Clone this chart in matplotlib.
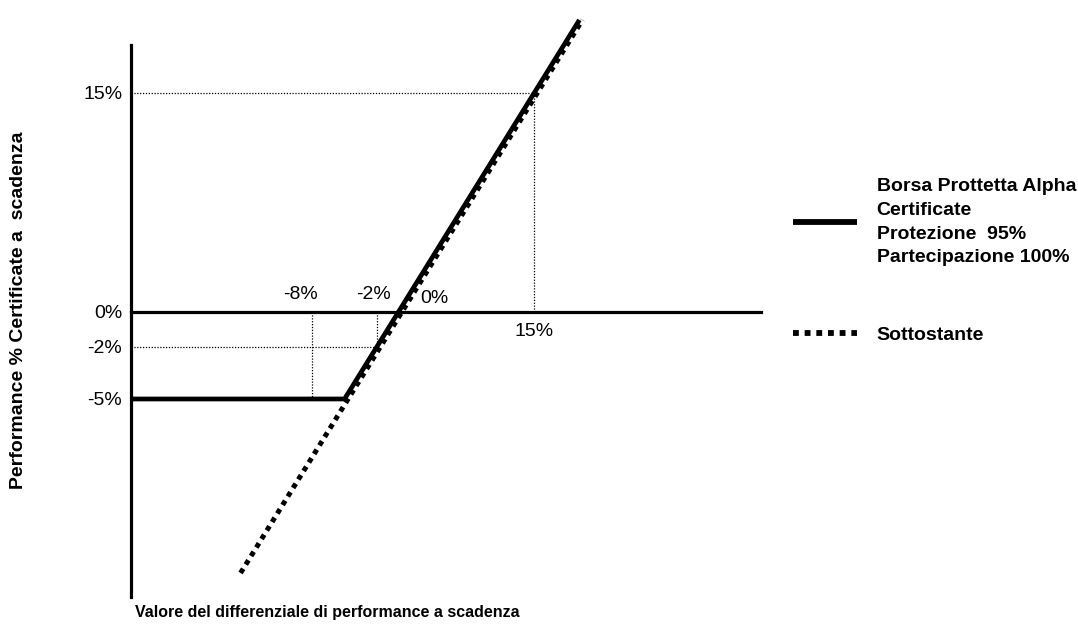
import numpy as np
import matplotlib.pyplot as plt
from matplotlib.transforms import offset_copy

plt.rcParams['font.family'] = ['Liberation Sans', 'DejaVu Sans']

# payoff at maturity (values in %)
cert_x = [-25, -5, 20]
cert_y = [-5, -5, 20]
under_x = [-15, 20]
under_y = [-15, 20]

y_ticks = [15, 0, -2, -5]
y_tick_labels = ['15%', '0%', '-2%', '-5%']
x_marks = [-8, -2, 0, 15]
x_mark_labels = ['-8%', '-2%', '0%', '15%']

cert_label = 'Borsa Prottetta Alpha\nCertificate\nProtezione  95%\nPartecipazione 100%'
under_label = 'Sottostante'
xlabel = 'Valore del differenziale di performance a scadenza'
ylabel = 'Performance % Certificate a  scadenza'

# schematic axes: different stretch either side of zero
kx_neg, kx_pos = 10.7, 9.07
ky_neg, ky_pos = 17.4, 14.6


def fx(v):
    v = np.asarray(v, dtype=float)
    return np.where(v < 0, v * kx_neg, v * kx_pos)


def fx_inv(p):
    p = np.asarray(p, dtype=float)
    return np.where(p < 0, p / kx_neg, p / kx_pos)


def fy(v):
    v = np.asarray(v, dtype=float)
    return np.where(v < 0, v * ky_neg, v * ky_pos)


def fy_inv(p):
    p = np.asarray(p, dtype=float)
    return np.where(p < 0, p / ky_neg, p / ky_pos)


fig = plt.figure(figsize=(10.78, 6.25), dpi=100)
ax = fig.add_axes([0.1211, 0.0442, 0.5847, 0.8842])
ax.set_xscale('function', functions=(fx, fx_inv))
ax.set_yscale('function', functions=(fy, fy_inv))
ax.set_xlim(-25, 40)
ax.set_ylim(-16.4, 18.3)

for s in ['top', 'right']:
    ax.spines[s].set_visible(False)
ax.spines['bottom'].set_position(('data', 0))
ax.spines['left'].set_linewidth(2.3)
ax.spines['bottom'].set_linewidth(2.3)

ax.set_xticks([])
ax.set_yticks(y_ticks, y_tick_labels)
ax.tick_params(axis='y', length=0, pad=6, labelsize=14)

# dotted guide lines
guide = dict(color='black', lw=0.9, linestyle=(0, (1, 1.3)))
ax.plot([cert_x[0], 15], [15, 15], **guide)
ax.plot([15, 15], [0, 15], **guide)
ax.plot([cert_x[0], -2], [-2, -2], **guide)
ax.plot([-2, -2], [0, -2], **guide)
ax.plot([-8, -8], [0, -5], **guide)

shifted = offset_copy(ax.transData, fig=fig, x=3, y=0, units='dots')
und, = ax.plot(under_x, under_y, color='black', lw=3.6,
               linestyle=(0, (1, 1.0)), transform=shifted,
               clip_on=False, label=under_label)
cert, = ax.plot(cert_x, cert_y, color='black', lw=3.4,
                solid_capstyle='butt', clip_on=False, label=cert_label)

offsets = [(-12, 17), (-3, 17), (22, 13), (0, -20)]
aligns = ['center', 'center', 'left', 'center']
for xv, lab, off, ha in zip(x_marks, x_mark_labels, offsets, aligns):
    ax.annotate(lab, (xv, 0), xytext=off, textcoords='offset pixels',
                ha=ha, va='center', fontsize=14)

leg = ax.legend(handles=[cert, und], loc='upper left',
                bbox_to_anchor=(793 / 1078, 1 - 178 / 625),
                bbox_transform=fig.transFigure, frameon=False,
                handlelength=3.3, handletextpad=1.0, labelspacing=3.1,
                borderpad=0, borderaxespad=0,
                prop=dict(weight='bold', size=14))
for t in leg.get_texts():
    t.set_linespacing(1.52)
for h in leg.legend_handles:
    h.set_linewidth(4.2)

fig.text(327 / 1078, 1 - 612 / 625, xlabel, ha='center', va='center',
         fontsize=11.5, fontweight='bold')
fig.text(19 / 1078, 1 - 310 / 625, ylabel, ha='center', va='center',
         rotation=90, fontsize=14, fontweight='bold')

plt.savefig('out.png', dpi=100)
